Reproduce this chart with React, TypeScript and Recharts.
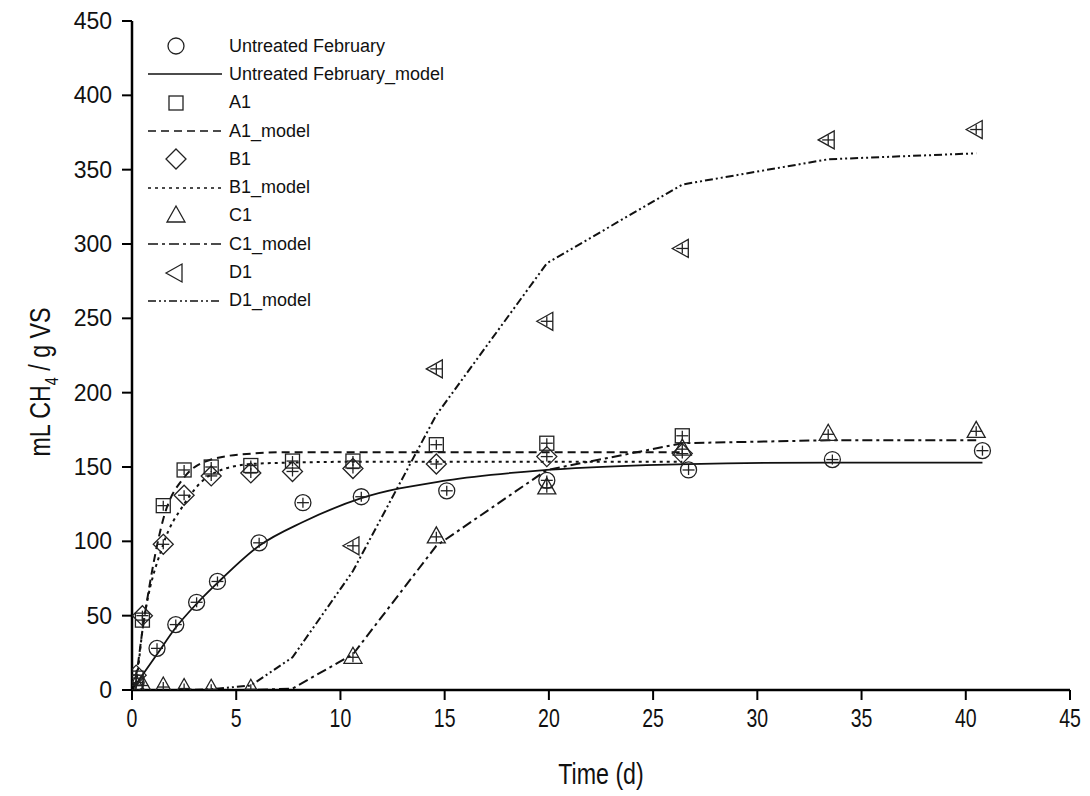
import React from 'react';
import { ComposedChart, Line, Scatter, XAxis, YAxis } from 'recharts';

// sampling days
const untreatedDays = [0.2, 1.2, 2.1, 3.1, 4.1, 6.1, 8.2, 11.0, 15.1, 19.9, 26.7, 33.6, 40.8];
const untreatedModelDays = [0, 1.2, 2.1, 3.1, 4.1, 6.1, 8.2, 11.0, 15.1, 19.9, 26.7, 33.6, 40.8];
const treatedDays = [0.2, 0.5, 1.5, 2.5, 3.8, 5.7, 7.7, 10.6, 14.6, 19.9, 26.4, 33.4, 40.5];
const treatedModelDays = [0, 0.2, 0.5, 1.5, 2.5, 3.8, 5.7, 7.7, 10.6, 14.6, 19.9, 26.4, 33.4, 40.5];
const c1Days = [0.2, 0.5, 1.5, 2.5, 3.8, 5.7, 10.6, 14.6, 19.9, 26.4, 33.4, 40.5];
const d1Days = [10.6, 14.6, 19.9, 26.4, 33.4, 40.5];

// measured values (mL CH4 / g VS)
const untreatedObs = [5, 28, 44, 59, 73, 99, 126, 130, 134, 141, 148, 155, 161];
const a1Obs = [8, 47, 124, 148, 150, 151, 154, 154, 165, 166, 171];
const b1Obs = [10, 50, 98, 131, 144, 146, 147, 149, 152, 157, 159];
const c1Obs = [3, 3, 2, 1, 0.5, 0.5, 22, 103, 136, 162, 172, 174];
const d1Obs = [97, 216, 248, 297, 370, 377];

// model curves
const untreatedModel = [0, 24, 42, 58, 72, 97, 113, 129, 141, 148, 152, 153, 153];
const a1Model = [0, 10, 40, 115, 143, 155, 159, 160, 160, 160, 160, 160];
const b1Model = [0, 6, 40, 98, 125, 145, 152, 153, 153.5, 153.5, 153.5, 153.5];
const c1Model = [0, 0, 0, 0, 0, 0, 0, 1, 24, 97, 148, 166, 168, 168];
const d1Model = [0, 0, 0, 0, 0, 0.5, 3, 22, 80, 185, 287, 340, 357, 361];

const xTicks = [0, 5, 10, 15, 20, 25, 30, 35, 40, 45];
const yTicks = [0, 50, 100, 150, 200, 250, 300, 350, 400, 450];

const pairs = (xs: number[], ys: number[]) => ys.map((y, i) => ({ x: xs[i], y }));

const ARIAL = "'Liberation Sans', Arial, sans-serif";

type Kind = 'circle' | 'square' | 'diamond' | 'triangle' | 'left';

const Marker = ({ cx, cy, kind, bars = true }: { cx: number; cy: number; kind: Kind; bars?: boolean }) => {
  let shape: React.ReactNode = null;
  if (kind === 'circle') shape = <circle cx={cx} cy={cy} r={8} />;
  if (kind === 'square') shape = <rect x={cx - 7} y={cy - 7} width={14} height={14} />;
  if (kind === 'diamond') shape = <polygon points={`${cx},${cy - 10} ${cx + 10},${cy} ${cx},${cy + 10} ${cx - 10},${cy}`} />;
  if (kind === 'triangle') shape = <polygon points={`${cx},${cy - 10} ${cx + 9},${cy + 6} ${cx - 9},${cy + 6}`} />;
  if (kind === 'left') shape = <polygon points={`${cx - 10},${cy} ${cx + 6},${cy - 9} ${cx + 6},${cy + 9}`} />;
  return (
    <g fill="none" stroke="#222" strokeWidth={1.3}>
      {shape}
      {bars && (
        <>
          <line x1={cx - 6} y1={cy} x2={cx + 6} y2={cy} />
          <line x1={cx} y1={cy - 5} x2={cx} y2={cy + 5} />
        </>
      )}
    </g>
  );
};

const legendItems: { label: string; kind?: Kind; dash?: string }[] = [
  { label: 'Untreated February', kind: 'circle' },
  { label: 'Untreated February_model', dash: '' },
  { label: 'A1', kind: 'square' },
  { label: 'A1_model', dash: '8 5' },
  { label: 'B1', kind: 'diamond' },
  { label: 'B1_model', dash: '3 4' },
  { label: 'C1', kind: 'triangle' },
  { label: 'C1_model', dash: '10 4 3 4' },
  { label: 'D1', kind: 'left' },
  { label: 'D1_model', dash: '8 3 2 3 2 3' },
];

const ChartLegend = () => (
  <div style={{ position: 'absolute', left: 146, top: 32, fontFamily: ARIAL, fontSize: 18, color: '#111' }}>
    {legendItems.map((it) => (
      <div key={it.label} style={{ display: 'flex', alignItems: 'center', height: 28.3 }}>
        <svg width={80} height={24} style={{ display: 'block' }}>
          {it.kind ? (
            <Marker cx={30} cy={12} kind={it.kind} bars={false} />
          ) : (
            <line x1={2} y1={12} x2={76} y2={12} stroke="#111" strokeWidth={1.6} strokeDasharray={it.dash || undefined} />
          )}
        </svg>
        <span style={{ marginLeft: 3 }}>{it.label}</span>
      </div>
    ))}
  </div>
);

const XTick = ({ x, y, payload }: any) => (
  <text
    transform={`translate(${x}, ${y}) scale(0.78, 1)`}
    textAnchor="middle"
    dy="0.71em"
    fontFamily={ARIAL}
    fontSize={25}
    fill="#111"
  >
    {payload.value}
  </text>
);

const YTitle = () => (
  <text
    transform="translate(50, 382) rotate(-90) scale(0.8, 1)"
    textAnchor="middle"
    fontFamily={ARIAL}
    fontSize={29}
    fill="#111"
  >
    mL CH<tspan fontSize={18} dy={8}>4</tspan>
    <tspan dy={-8}> / g VS</tspan>
  </text>
);

const XTitle = () => (
  <text
    transform="translate(601, 784) scale(0.8, 1)"
    textAnchor="middle"
    fontFamily={ARIAL}
    fontSize={29}
    fill="#111"
  >
    Time (d)
  </text>
);

export default function App() {
  return (
    <div style={{ position: 'absolute', left: 0, top: 0, width: 1090, height: 796, background: '#fff' }}>
      <ComposedChart width={1090} height={796} margin={{ top: 21, right: 20, left: 0, bottom: 0 }}>
        <XAxis
          dataKey="x"
          type="number"
          domain={[0, 45]}
          ticks={xTicks}
          allowDataOverflow
          height={106}
          stroke="#000"
          strokeWidth={2.5}
          tickSize={10}
          tickMargin={9}
          tick={<XTick />}
          tickLine={{ stroke: '#000', strokeWidth: 2 }}
          label={{ content: () => <XTitle /> }}
        />
        <YAxis
          dataKey="y"
          type="number"
          domain={[0, 450]}
          ticks={yTicks}
          allowDataOverflow
          width={132}
          stroke="#000"
          strokeWidth={2.5}
          tickSize={10}
          tickMargin={10}
          tick={{ fill: '#111', fontSize: 23, fontFamily: ARIAL }}
          tickLine={{ stroke: '#000', strokeWidth: 2 }}
          label={{ content: () => <YTitle /> }}
        />

        <Line data={pairs(untreatedModelDays, untreatedModel)} dataKey="y" type="monotone" stroke="#111" strokeWidth={1.8} dot={false} activeDot={false} isAnimationActive={false} />
        <Line data={pairs(treatedModelDays, a1Model)} dataKey="y" type="monotone" stroke="#111" strokeWidth={2} strokeDasharray="8 5" dot={false} activeDot={false} isAnimationActive={false} />
        <Line data={pairs(treatedModelDays, b1Model)} dataKey="y" type="monotone" stroke="#111" strokeWidth={2} strokeDasharray="3 4" dot={false} activeDot={false} isAnimationActive={false} />
        <Line data={pairs(treatedModelDays, c1Model)} dataKey="y" type="linear" stroke="#111" strokeWidth={2} strokeDasharray="10 4 3 4" dot={false} activeDot={false} isAnimationActive={false} />
        <Line data={pairs(treatedModelDays, d1Model)} dataKey="y" type="linear" stroke="#111" strokeWidth={2} strokeDasharray="8 3 2 3 2 3" dot={false} activeDot={false} isAnimationActive={false} />

        <Scatter data={pairs(untreatedDays, untreatedObs)} dataKey="y" isAnimationActive={false} shape={(p: any) => <Marker cx={p.cx} cy={p.cy} kind="circle" />} />
        <Scatter data={pairs(treatedDays, a1Obs)} dataKey="y" isAnimationActive={false} shape={(p: any) => <Marker cx={p.cx} cy={p.cy} kind="square" />} />
        <Scatter data={pairs(treatedDays, b1Obs)} dataKey="y" isAnimationActive={false} shape={(p: any) => <Marker cx={p.cx} cy={p.cy} kind="diamond" />} />
        <Scatter data={pairs(c1Days, c1Obs)} dataKey="y" isAnimationActive={false} shape={(p: any) => <Marker cx={p.cx} cy={p.cy} kind="triangle" />} />
        <Scatter data={pairs(d1Days, d1Obs)} dataKey="y" isAnimationActive={false} shape={(p: any) => <Marker cx={p.cx} cy={p.cy} kind="left" />} />
      </ComposedChart>
      <ChartLegend />
    </div>
  );
}
